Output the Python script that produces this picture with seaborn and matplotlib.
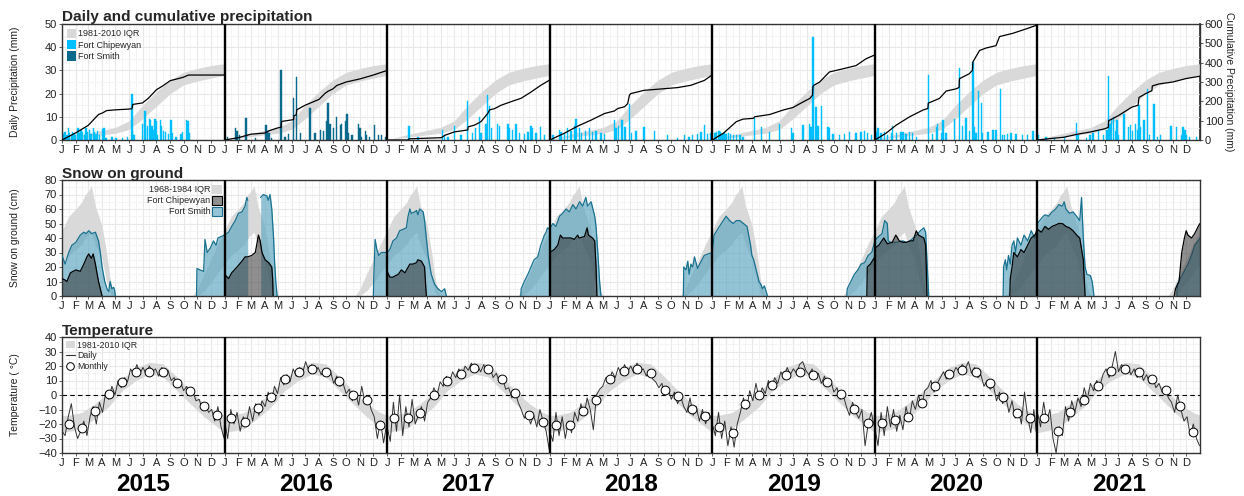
import numpy as np
import pandas as pd
import matplotlib
matplotlib.use("Agg")
import matplotlib.pyplot as plt
import matplotlib.transforms as mtransforms
from matplotlib.patches import Patch
from matplotlib.lines import Line2D
import seaborn as sns

# ---------------- data ----------------
years = [2015, 2016, 2017, 2018, 2019, 2020, 2021]
month_letters = ["J", "F", "M", "A", "M", "J", "J", "A", "S", "O", "N", "D"]
month_start_doy = [0, 31, 59, 90, 120, 151, 181, 212, 243, 273, 304, 334]

# daily precipitation bars (day of year, mm)
precip_station = ["Fort Chipewyan", "Fort Smith", "Fort Chipewyan", "Fort Chipewyan",
                  "Fort Chipewyan", "Fort Chipewyan", "Fort Chipewyan"]
precip_2015 = [(2, 2.5), (5, 3), (7, 3.5), (11, 2), (15, 5.3), (17, 3), (21, 2), (24, 3.5), (27, 3), (31, 2),
               (36, 5), (39, 3), (43, 4.5), (46, 3.5), (50, 2), (54, 5), (57, 3.5), (61, 4.5), (65, 2.5), (70, 5),
               (73, 3.5), (76, 2.5), (80, 4), (84, 2), (91, 4.8), (94, 5), (99, 1), (112, 1.2), (121, 1), (136, 1),
               (147, 1.2), (157, 20), (159, 4), (162, 2), (181, 7), (186, 12.5), (188, 5), (192, 6), (196, 9),
               (199, 8.5), (202, 6), (206, 4.5), (209, 9), (212, 8), (215, 2), (221, 8.5), (224, 6), (228, 4),
               (232, 3.5), (239, 2.5), (245, 8.5), (248, 3), (256, 1.5), (267, 2.5), (271, 3.5), (279, 8.5),
               (283, 8), (286, 3)]
precip_2016 = [(7, 1.5), (24, 5), (28, 4), (33, 2), (48, 9.3), (69, 1), (93, 6.3), (97, 4), (100, 3), (106, 1),
               (127, 30), (136, 1.5), (144, 2.5), (155, 18), (162, 27), (170, 3), (192, 14), (203, 3), (215, 4.5),
               (222, 4), (230, 8), (232, 15.8), (237, 7), (245, 5), (252, 10), (260, 6.5), (263, 7), (271, 8),
               (275, 11), (278, 3), (286, 2.3), (301, 6.8), (304, 5), (308, 1.5), (316, 4), (319, 2), (325, 1.5),
               (337, 6.5), (346, 2), (353, 2), (361, 1.5)]
precip_2017 = [(49, 6.1), (69, 1.5), (124, 4.5), (129, 2), (137, 1.5), (151, 6), (166, 2), (181, 17), (192, 3),
               (198, 5), (207, 10), (211, 3), (222, 7), (226, 19.5), (230, 14.5), (234, 5), (248, 7), (252, 6),
               (271, 7), (275, 5), (282, 4.5), (289, 7), (297, 3), (308, 2.5), (316, 3.5), (323, 6), (327, 5),
               (334, 3), (345, 5.5), (353, 2)]
precip_2018 = [(7, 2), (22, 4.5), (25, 3.5), (33, 3), (40, 5), (48, 4), (55, 6), (59, 9), (67, 5), (72, 3),
               (81, 4), (89, 5), (96, 3.5), (104, 4), (115, 3), (123, 2.5), (145, 8.6), (149, 5), (154, 6),
               (162, 8.5), (169, 5.5), (179, 15.7), (183, 3), (194, 4), (212, 5.5), (235, 4), (265, 2), (287, 1),
               (302, 2), (313, 1.5), (321, 2), (332, 2.5), (340, 3.5), (347, 6.5), (355, 2.5), (362, 3)]
precip_2019 = [(6, 3), (10, 3.5), (15, 4), (19, 3.5), (22, 2.5), (26, 3), (31, 2.5), (36, 3), (41, 2.5), (47, 2),
               (54, 2), (62, 2), (69, 1.5), (95, 9.6), (110, 5.5), (129, 3.5), (151, 7), (178, 5), (181, 3),
               (204, 6.5), (219, 7), (222, 5.5), (226, 44.3), (233, 14.3), (237, 6), (245, 14.5), (260, 5.5),
               (263, 5), (271, 2.5), (286, 2), (297, 2.5), (308, 3.5), (323, 3), (334, 3.5), (342, 4), (349, 3),
               (357, 2)]
precip_2020 = [(3, 3.5), (7, 5), (14, 3), (22, 3.5), (29, 2), (37, 3), (40, 6), (48, 3), (59, 3.5), (63, 3.5),
               (70, 2.5), (78, 3.5), (85, 3), (93, 1.5), (120, 28), (130, 2.5), (138, 5.5), (141, 7), (149, 3),
               (153, 8.5), (160, 3), (179, 9), (190, 31), (197, 6), (205, 9.5), (212, 4), (220, 33.5), (224, 5.5),
               (227, 3), (233, 21), (239, 16), (242, 3), (254, 3.5), (265, 4.5), (272, 4.5), (282, 22), (286, 2),
               (291, 2), (298, 2.5), (306, 3), (317, 2.5), (332, 2), (343, 2), (355, 4)]
precip_2021 = [(2, 2), (19, 1.5), (38, 1), (61, 1.5), (87, 7.5), (91, 2), (110, 1), (118, 2), (125, 3), (137, 4.5),
               (148, 2), (156, 4.5), (160, 27.5), (163, 7), (167, 9), (171, 10), (175, 4), (179, 8.5), (182, 2),
               (194, 11), (205, 5.5), (209, 6.5), (213, 4), (220, 7), (224, 4.5), (228, 15), (232, 5.5), (239, 8.5),
               (247, 22), (251, 2), (262, 15.5), (270, 1.5), (277, 2), (300, 6), (312, 5.5), (323, 2), (327, 5.5),
               (331, 4.5), (334, 2), (342, 1.5), (357, 1.5)]

# cumulative precipitation (day of year, mm)
cum_2015 = [(0, 0), (31, 37), (59, 76), (82, 132), (91, 140), (100, 152), (120, 156), (151, 160), (157, 162),
            (159, 184), (181, 192), (194, 216), (212, 260), (227, 281), (243, 307), (265, 320), (273, 325),
            (284, 336), (365, 336)]
cum_2016 = [(0, 0), (31, 12), (59, 30), (90, 36), (100, 48), (120, 63), (127, 66), (128, 96), (151, 104),
            (155, 106), (156, 126), (161, 130), (162, 156), (181, 180), (212, 210), (225, 240), (232, 252),
            (243, 264), (252, 282), (273, 300), (304, 316), (334, 336), (365, 360)]
cum_2017 = [(0, 0), (47, 0), (49, 6), (122, 12), (129, 24), (151, 42), (181, 52), (182, 68), (196, 77), (207, 90),
            (211, 96), (226, 138), (230, 156), (241, 162), (256, 180), (278, 198), (301, 216), (323, 248),
            (345, 283), (365, 310)]
cum_2018 = [(0, 0), (33, 35), (63, 72), (93, 103), (123, 137), (145, 150), (153, 163), (168, 172), (175, 188),
            (179, 232), (182, 240), (212, 257), (250, 264), (287, 271), (317, 283), (347, 308), (365, 337)]
cum_2019 = [(0, 0), (25, 35), (54, 95), (69, 108), (92, 112), (95, 120), (129, 132), (159, 155), (181, 168),
            (204, 197), (219, 215), (225, 232), (226, 276), (228, 283), (241, 300), (263, 352), (293, 368),
            (323, 385), (345, 420), (365, 440)]
cum_2020 = [(0, 0), (25, 35), (48, 77), (78, 120), (108, 155), (119, 163), (120, 191), (145, 215), (160, 253),
            (183, 265), (189, 272), (190, 317), (212, 343), (219, 360), (220, 403), (235, 463), (250, 476),
            (272, 488), (280, 535), (310, 552), (340, 575), (365, 595)]
cum_2021 = [(0, 0), (31, 8), (59, 14), (90, 30), (120, 42), (151, 58), (159, 65), (160, 100), (181, 125),
            (212, 170), (226, 180), (228, 220), (243, 240), (257, 255), (258, 280), (273, 290), (304, 300),
            (334, 318), (365, 330)]

# 1981-2010 IQR of cumulative precipitation (mm)
cum_iqr_doy = [0, 31, 59, 90, 120, 151, 181, 212, 243, 273, 304, 334, 365]
cum_iqr_lo = [0, 10, 18, 27, 35, 55, 110, 175, 240, 285, 305, 320, 335]
cum_iqr_hi = [0, 20, 35, 50, 65, 100, 180, 250, 310, 350, 370, 385, 395]

# snow on ground (day of year, cm); None = no data
snow_iqr_doy = [0, 15, 31, 45, 52, 59, 66, 75, 90, 100, 108, 115, 120, 293, 304, 320, 334, 350, 365]
snow_iqr_hi = [45, 55, 60, 65, 70, 72, 76, 62, 48, 30, 12, 3, 0, 0, 5, 16, 25, 36, 45]
snow_iqr_lo = [22, 28, 32, 36, 40, 42, 44, 35, 25, 10, 2, 0, 0, 0, 0, 4, 9, 16, 22]

smith_2015 = [(0, 28), (7, 22), (15, 30), (22, 35), (31, 37), (41, 42), (49, 44), (54, 43), (60, 45), (67, 43),
              (75, 44), (82, 38), (86, 30), (90, 20), (96, 10), (101, 5), (105, 3), (108, 10), (112, 5), (116, 6),
              (118, 4), (120, 0), None, (302, 0), (303, 19), (310, 18), (318, 17), (321, 39), (326, 30), (333, 33),
              (340, 38), (346, 35), (350, 40), (357, 41), (365, 42)]
smith_2016 = [(0, 42), (9, 44), (16, 48), (24, 52), (31, 57), (39, 58), (46, 62), (50, 68), (52, 66), None,
              (81, 68), (87, 70), (95, 69), (98, 66), (102, 70), (106, 60), (110, 40), (112, 25), (115, 10),
              (118, 0), None, (334, 0), (335, 13), (338, 39), (342, 32), (346, 28), (352, 30), (358, 30), (365, 30)]
smith_2017 = [(0, 30), (6, 32), (13, 38), (21, 40), (28, 45), (36, 46), (43, 47), (47, 55), (51, 60), (54, 57),
              (62, 58), (66, 59), (69, 56), (73, 60), (81, 58), (84, 52), (88, 40), (92, 28), (99, 15), (107, 8),
              (114, 5), (122, 3), (129, 5), (133, 0), None, (300, 0), (301, 5), (308, 10), (316, 15), (323, 20),
              (330, 25), (338, 27), (345, 35), (353, 42), (357, 44), (360, 47), (365, 46)]
smith_2018 = [(0, 46), (7, 50), (14, 48), (22, 55), (29, 57), (37, 60), (44, 58), (52, 63), (59, 60), (67, 65),
              (74, 62), (81, 68), (85, 62), (93, 65), (101, 55), (104, 48), (108, 30), (112, 10), (115, 0), None,
              (300, 0), (301, 20), (306, 18), (310, 24), (313, 15), (317, 22), (321, 20), (325, 27), (332, 19),
              (340, 24), (347, 28), (355, 29), (365, 30)]
smith_2019 = [(0, 30), (4, 42), (16, 48), (31, 55), (39, 52), (47, 50), (54, 52), (62, 52), (70, 50), (78, 48),
              (86, 35), (89, 28), (93, 25), (97, 20), (101, 15), (105, 10), (109, 8), (113, 5), (117, 7), (121, 3),
              (124, 0), None, (302, 0), (303, 5), (311, 10), (319, 15), (327, 18), (334, 22), (342, 23), (350, 28),
              (358, 30), (365, 38)]
smith_2020 = [(0, 38), (5, 40), (16, 43), (22, 52), (28, 50), (30, 38), (36, 37), (47, 37), (63, 38), (71, 37),
              (79, 38), (86, 40), (94, 42), (102, 45), (110, 47), (114, 44), (117, 25), (121, 0), None, (288, 0),
              (289, 20), (293, 25), (296, 18), (300, 28), (304, 22), (308, 35), (312, 38), (316, 30), (320, 40),
              (328, 35), (335, 42), (343, 38), (351, 45), (359, 40), (365, 48)]
smith_2021 = [(0, 50), (5, 52), (13, 55), (17, 56), (25, 55), (33, 58), (41, 60), (48, 63), (56, 62), (60, 65),
              (64, 60), (72, 57), (80, 58), (88, 55), (95, 52), (99, 68), (103, 40), (107, 20), (111, 15),
              (119, 14), (123, 10), (127, 0), None, (313, 0), (314, 8), (326, 15), (338, 22), (346, 28), (353, 35),
              (361, 38), (365, 40)]

chip_2015 = [(0, 12), (7, 11), (11, 10), (19, 16), (31, 18), (41, 17), (49, 22), (56, 27), (60, 29), (66, 26),
             (70, 29), (75, 22), (79, 15), (82, 10), (86, 5), (90, 0)]
chip_2016 = [(0, 15), (9, 12), (16, 16), (28, 20), (39, 24), (46, 27), (52, 27), (61, 28), (69, 30), (72, 35),
             (76, 42), (80, 38), (84, 30), (91, 25), (99, 23), (106, 20), (108, 12), (109, 0)]
chip_2017 = [(0, 17), (6, 13), (13, 13), (25, 15), (32, 18), (40, 16), (51, 22), (58, 22), (66, 23), (69, 25),
             (77, 24), (84, 20), (88, 0)]
chip_2018 = [(0, 30), (10, 32), (18, 35), (24, 42), (29, 40), (37, 40), (48, 40), (55, 39), (63, 42), (66, 40),
             (78, 41), (84, 47), (87, 42), (96, 40), (101, 38), (104, 20), (106, 0)]
chip_2019 = [(347, 0), (348, 20), (355, 22), (365, 27)]
chip_2020 = [(0, 33), (9, 35), (20, 40), (28, 36), (39, 37), (47, 42), (55, 38), (63, 37), (71, 37), (79, 38),
             (86, 38), (93, 45), (98, 42), (110, 40), (114, 35), (117, 0), None, (303, 0), (304, 12), (308, 20),
             (312, 30), (320, 27), (328, 32), (335, 30), (343, 35), (351, 40), (359, 42), (365, 45)]
chip_2021 = [(0, 46), (9, 44), (17, 48), (25, 46), (33, 48), (41, 49), (48, 50), (56, 50), (64, 48), (72, 47),
             (80, 45), (88, 42), (95, 40), (103, 25), (107, 0), None, (307, 0), (310, 5), (318, 10), (324, 30),
             (330, 40), (334, 45), (338, 42), (346, 40), (353, 43), (361, 48), (365, 50)]

# temperature: 1981-2010 IQR (deg C)
temp_iqr_doy = [0, 15, 45, 74, 105, 135, 166, 196, 227, 258, 288, 319, 349, 365]
temp_iqr_lo = [-26, -25, -23, -16, -8, 3, 10, 14.5, 12.5, 3, -6, -15, -22, -26]
temp_iqr_hi = [-14, -14, -12, -6, 2, 11, 19, 22.5, 21.5, 12.5, 3, -6, -12, -14]

# daily temperature sampled weekly (day 0, 7, 14, ... 364)
temp_daily_2015 = [-25, -28, -15, -6, -22, -30, -25, -18, -28, -15, -8, -20, -5, -12, 2, -3, 6, 0, 10, 5, 12, 9,
                   18, 14, 21, 15, 19, 14, 20, 16, 18, 13, 19, 14, 17, 10, 12, 6, 9, 3, 6, 0, 2, -4, -3, -10, -6,
                   -12, -10, -18, -8, -22, -30]
temp_daily_2016 = [-18, -30, -10, -20, -12, -25, -15, -20, -8, -18, -6, -14, -4, -8, 2, -5, 6, 1, 12, 7, 14, 9,
                   18, 13, 19, 15, 23, 17, 21, 16, 19, 14, 18, 13, 16, 8, 13, 6, 8, 1, 4, -4, 2, -7, 6, -5, -1,
                   -10, -15, -30, -18, -33, -20]
temp_daily_2017 = [-22, -32, -5, -25, 0, -28, -8, -22, -3, -20, -14, -8, -18, -5, -2, 5, 0, 9, 6, 13, 9, 16, 12,
                   18, 13, 20, 17, 22, 18, 20, 16, 21, 15, 19, 12, 15, 9, 12, 4, 5, -2, 3, -5, -10, -16, -12, -20,
                   -14, -22, -10, -18, -25, -38]
temp_daily_2018 = [-25, -32, -12, -28, -15, -30, -18, -26, -12, -18, -6, -14, -2, -10, -24, 0, 4, 6, 12, 9, 16,
                   12, 19, 14, 21, 16, 20, 15, 22, 17, 18, 13, 17, 11, 9, 5, 8, 0, 4, -3, 2, -6, -1, -8, -12, -2,
                   -14, -8, -18, -10, -20, -12, -18]
temp_daily_2019 = [-20, -28, -12, -30, -18, -35, -22, -36, -20, -12, -2, -10, 3, -4, 8, -2, 5, 1, 10, 4, 12, 8,
                   16, 12, 19, 14, 18, 15, 21, 23, 17, 14, 18, 12, 15, 8, 13, 6, 10, 2, 5, -3, 0, -8, -14, -5, -12,
                   -16, -10, -35, -20, -12, -22]
temp_daily_2020 = [-22, -35, -12, -28, -8, -22, -10, -25, -14, -24, -8, -18, -4, -10, 0, -8, 3, 5, 10, 2, 8, 12,
                   16, 11, 17, 14, 19, 16, 21, 18, 23, 15, 19, 12, 14, 6, 10, 4, 7, -4, 2, -6, -1, -12, -4, -16,
                   -10, -20, 2, -15, -26, -10, -30]
temp_daily_2021 = [-12, -22, -5, -18, -10, -30, -40, -22, -28, -8, -18, -4, -12, -2, -8, 5, -3, 8, 3, 10, 6, 14,
                   18, 12, 20, 30, 16, 21, 17, 20, 14, 18, 12, 17, 10, 14, 8, 12, 5, 8, 2, 5, -2, -5, -12, 0, -10,
                   -18, -15, -28, -20, -30, -35]

# monthly mean temperature
temp_monthly_2015 = [-20, -23, -10.7, 0.8, 8.9, 15.8, 16.2, 16.2, 8.4, 2.9, -7.5, -14]
temp_monthly_2016 = [-16, -18.3, -9.1, -1.5, 10.7, 16.2, 18, 15.8, 10, 0.1, -3.6, -20.6]
temp_monthly_2017 = [-16, -16, -12.4, 0, 10, 14.7, 18.9, 17.7, 11.3, 1.6, -14, -18.6]
temp_monthly_2018 = [-20.7, -21, -11, -3.4, 11.3, 16.6, 17.7, 15.2, 3.7, -0.5, -9.9, -14.5]
temp_monthly_2019 = [-22.2, -26.1, -6.4, 0.1, 6.8, 13.8, 16.1, 13.8, 9.1, 0.6, -9.4, -19.6]
temp_monthly_2020 = [-19.6, -17.5, -15.2, -5.2, 5.9, 14.5, 17.5, 16.1, 8.2, -1.1, -12.2, -16.1]
temp_monthly_2021 = [-15.7, -25, -11.5, -3.4, 6.4, 16.8, 18, 15.6, 11, 3.6, -7.6, -25.7]

precip_years = [precip_2015, precip_2016, precip_2017, precip_2018, precip_2019, precip_2020, precip_2021]
cum_years = [cum_2015, cum_2016, cum_2017, cum_2018, cum_2019, cum_2020, cum_2021]
smith_years = [smith_2015, smith_2016, smith_2017, smith_2018, smith_2019, smith_2020, smith_2021]
chip_years = [chip_2015, chip_2016, chip_2017, chip_2018, chip_2019, chip_2020, chip_2021]
tdaily_years = [temp_daily_2015, temp_daily_2016, temp_daily_2017, temp_daily_2018, temp_daily_2019,
                temp_daily_2020, temp_daily_2021]
tmonth_years = [temp_monthly_2015, temp_monthly_2016, temp_monthly_2017, temp_monthly_2018, temp_monthly_2019,
                temp_monthly_2020, temp_monthly_2021]

# ---------------- style ----------------
C_IQR = "#D9D9D9"
C_CHIP_BAR = "#00BFFF"
C_SMITH_BAR = "#0B6A8C"
C_SMITH_FILL = "#5AA5C0"
C_SMITH_LINE = "#17718F"
C_CHIP_FILL = "#333333"

sns.set_theme(style="whitegrid")
plt.rcParams["font.family"] = ["Liberation Sans", "DejaVu Sans"]

YEAR_LEN = 365
N = len(years)
TICK_FS = 8
TITLE_FS = 11.1


def gx(k, doy):
    return k * YEAR_LEN + np.asarray(doy, dtype=float)


def segments(lst):
    seg = []
    for item in lst:
        if item is None:
            if seg:
                yield seg
            seg = []
        else:
            seg.append(item)
    if seg:
        yield seg


fig = plt.figure(figsize=(12.44, 4.96), dpi=100)
L, W, H = 62 / 1244, 1138 / 1244, 116 / 496
ax1 = fig.add_axes([L, 1 - 140 / 496, W, H])
ax2 = fig.add_axes([L, 1 - 296 / 496, W, H])
ax3 = fig.add_axes([L, 1 - 453 / 496, W, H])

xt = [k * YEAR_LEN + m for k in range(N) for m in month_start_doy]
xl = month_letters * N
xt_minor = [k * YEAR_LEN + m + 15 for k in range(N) for m in month_start_doy]


def style(ax, ymin, ymax, ystep):
    ax.set_xlim(0, YEAR_LEN * N)
    ax.set_ylim(ymin, ymax)
    ax.set_xticks(xt)
    ax.set_xticklabels(xl)
    ax.set_xticks(xt_minor, minor=True)
    ax.set_yticks(np.arange(ymin, ymax + 1, ystep))
    ax.set_yticks(np.arange(ymin + ystep / 2, ymax, ystep), minor=True)
    ax.grid(True, which="major", color="#E8E8E8", lw=0.8)
    ax.grid(True, which="minor", color="#F3F3F3", lw=0.6)
    ax.tick_params(which="major", direction="out", length=2.5, width=0.6, color="#444444",
                   labelsize=TICK_FS, pad=1, bottom=True, left=True, labelcolor="#222222")
    ax.tick_params(which="minor", length=0)
    for s in ax.spines.values():
        s.set_color("#333333")
        s.set_linewidth(1.0)
    ax.set_axisbelow(True)
    for k in range(1, N):
        ax.axvline(k * YEAR_LEN, color="black", lw=1.7, zorder=8)
    ax.set_xlabel("")


# ---------------- panel 1: precipitation ----------------
for k in range(N):
    ax1.fill_between(gx(k, cum_iqr_doy), np.array(cum_iqr_lo) / 12, np.array(cum_iqr_hi) / 12,
                     color=C_IQR, lw=0, zorder=1)
for k in range(N):
    col = C_CHIP_BAR if precip_station[k] == "Fort Chipewyan" else C_SMITH_BAR
    d = [p[0] for p in precip_years[k]]
    v = [p[1] for p in precip_years[k]]
    ax1.bar(gx(k, d), v, width=3.0, color=col, edgecolor=col, lw=0.3, zorder=2)
for k in range(N):
    d = [p[0] for p in cum_years[k]]
    v = [p[1] / 12 for p in cum_years[k]]
    sns.lineplot(x=gx(k, d), y=v, ax=ax1, color="black", lw=0.9, estimator=None, sort=False,
                 legend=False, zorder=4)
style(ax1, 0, 50, 10)
ax1.set_ylabel("Daily Precipitation (mm)", fontsize=7.5, color="#222222")
ax1.yaxis.set_label_coords(-0.037, 0.5)
sec = ax1.secondary_yaxis("right", functions=(lambda y: y * 12, lambda y: y / 12))
sec.set_yticks(np.arange(0, 601, 100))
sec.tick_params(direction="out", length=2.5, width=0.6, color="#444444", labelsize=TICK_FS, pad=1,
                labelcolor="#222222")
for s in sec.spines.values():
    s.set_color("#333333")
fig.text(1229 / 1244, 1 - 82 / 496, "Cumulative Precipitation (mm)", rotation=270,
         ha="center", va="center", fontsize=7.5, color="#222222")
ax1.set_title("Daily and cumulative precipitation", loc="left", fontsize=TITLE_FS, fontweight="bold", pad=1.5)
h1 = [Patch(facecolor=C_IQR, edgecolor="none"), Patch(facecolor=C_CHIP_BAR, edgecolor="none"),
      Patch(facecolor=C_SMITH_BAR, edgecolor="none")]
ax1.legend(h1, ["1981-2010 IQR", "Fort Chipewyan", "Fort Smith"], loc="upper left", frameon=False,
           fontsize=6.5, handlelength=1.1, handleheight=1.2, handletextpad=0.2, labelspacing=0.2,
           borderaxespad=0.3, borderpad=0.2)

# ---------------- panel 2: snow ----------------
for k in range(N):
    ax2.fill_between(gx(k, snow_iqr_doy), snow_iqr_lo, snow_iqr_hi, color=C_IQR, lw=0, zorder=1)
for k in range(N):
    for seg in segments(smith_years[k]):
        x = gx(k, [p[0] for p in seg])
        y = [p[1] for p in seg]
        ax2.fill_between(x, 0, y, color=C_SMITH_FILL, alpha=0.65, lw=0, zorder=2)
        sns.lineplot(x=x, y=y, ax=ax2, color=C_SMITH_LINE, lw=0.9, estimator=None, sort=False,
                     legend=False, zorder=3)
for k in range(N):
    for seg in segments(chip_years[k]):
        x = gx(k, [p[0] for p in seg])
        y = [p[1] for p in seg]
        ax2.fill_between(x, 0, y, color=C_CHIP_FILL, alpha=0.55, lw=0, zorder=4)
        sns.lineplot(x=x, y=y, ax=ax2, color="black", lw=0.9, estimator=None, sort=False,
                     legend=False, zorder=5)
style(ax2, 0, 80, 10)
ax2.set_ylabel("Snow on ground (cm)", fontsize=7.5, color="#222222")
ax2.yaxis.set_label_coords(-0.037, 0.5)
ax2.set_title("Snow on ground", loc="left", fontsize=TITLE_FS, fontweight="bold", pad=1.5)
h2 = [Patch(facecolor=C_IQR, edgecolor="none"),
      Patch(facecolor="#8F8F8F", edgecolor="black", lw=0.8),
      Patch(facecolor="#94C4D6", edgecolor=C_SMITH_LINE, lw=0.8)]
ax2.legend(h2, ["1968-1984 IQR", "Fort Chipewyan", "Fort Smith"], loc="upper right",
           bbox_to_anchor=(0.1445, 1.0), frameon=False, markerfirst=False, fontsize=6.5,
           handlelength=1.1, handleheight=1.2, handletextpad=0.2, labelspacing=0.15,
           borderaxespad=0.3, borderpad=0.2)

# ---------------- panel 3: temperature ----------------
for k in range(N):
    ax3.fill_between(gx(k, temp_iqr_doy), temp_iqr_lo, temp_iqr_hi, color=C_IQR, lw=0, zorder=1)
ax3.axhline(0, color="black", ls=(0, (4, 3)), lw=0.8, zorder=2)
tx, ty = [], []
for k in range(N):
    vals = tdaily_years[k]
    tx.extend(gx(k, [min(7 * i, 364) for i in range(len(vals))]))
    ty.extend(vals)
sns.lineplot(x=tx, y=ty, ax=ax3, color="#333333", lw=0.7, estimator=None, sort=False, legend=False, zorder=3)
mx, my = [], []
for k in range(N):
    mx.extend(gx(k, [m + 15 for m in month_start_doy]))
    my.extend(tmonth_years[k])
sns.scatterplot(x=mx, y=my, ax=ax3, s=40, color="white", edgecolor="black", linewidth=0.7,
                legend=False, zorder=6)
style(ax3, -40, 40, 10)
ax3.set_ylabel("Temperature ( °C)", fontsize=7.5, color="#222222")
ax3.yaxis.set_label_coords(-0.037, 0.5)
ax3.set_title("Temperature", loc="left", fontsize=TITLE_FS, fontweight="bold", pad=1.5)
h3 = [Patch(facecolor=C_IQR, edgecolor="none"), Line2D([], [], color="#333333", lw=0.8),
      Line2D([], [], marker="o", ls="none", markerfacecolor="white", markeredgecolor="black",
             markersize=5.5, markeredgewidth=0.7)]
ax3.legend(h3, ["1981-2010 IQR", "Daily", "Monthly"], loc="upper left", frameon=False, fontsize=6.3,
           handlelength=1.1, handleheight=1.0, handletextpad=0.2, labelspacing=0.2,
           borderaxespad=0.2, borderpad=0.2)

trans = mtransforms.blended_transform_factory(ax3.transData, ax3.transAxes)
for k, yr in enumerate(years):
    ax3.text(k * YEAR_LEN + YEAR_LEN / 2, -(491 - 453) / 116, str(yr), transform=trans, ha="center",
             va="baseline", fontsize=17.5, fontweight="bold", color="black")

fig.savefig("out.png", dpi=100)
